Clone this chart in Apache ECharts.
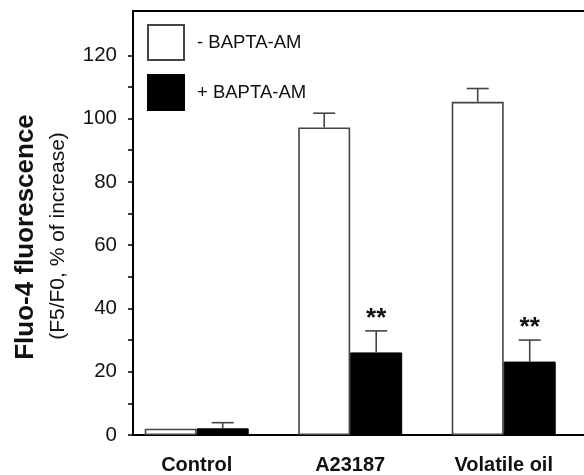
<!DOCTYPE html>
<html>
<head>
<meta charset="utf-8">
<script src="https://cdn.jsdelivr.net/npm/echarts@6/dist/echarts.min.js"></script>
<style>html,body{margin:0;padding:0;background:#fff}#c{width:584px;height:475px}</style>
</head>
<body>
<div id="c"></div>
<script>
const categories = ['Control', 'A23187', 'Volatile oil'];
const seriesNames = ['- BAPTA-AM', '+ BAPTA-AM'];
const withoutBapta = [2.0, 97.2, 105.3];
const withoutBaptaErr = [0, 4.5, 4.2];
const withBapta = [2.1, 26.1, 23.2];
const withBaptaErr = [1.8, 6.8, 6.8];
const significance = ['', '**', '**'];
const yLabelTicks = [0, 20, 40, 60, 80, 100, 120];
const yMinorTicks = [0, 10, 20, 30, 40, 50, 60, 70, 80, 90, 100, 110, 120];

const FONT = 'Liberation Sans, Arial, Helvetica, sans-serif';
const BAR_W = 52;
const pos = i => i + 0.5;

function errData(vals, errs) {
  return vals.map((v, i) => [pos(i), v, errs[i], i]);
}

function errRender(dx, color, withSig) {
  return function (params, api) {
    const x = api.value(0), v = api.value(1), e = api.value(2), idx = api.value(3);
    const base = api.coord([x, v]);
    const top = api.coord([x, v + e]);
    const cx = base[0] + dx;
    const children = [];
    if (e > 0) {
      children.push({type: 'line', shape: {x1: cx, y1: base[1], x2: cx, y2: top[1]}, style: {stroke: color, lineWidth: 1.6}});
      children.push({type: 'line', shape: {x1: cx - 11, y1: top[1], x2: cx + 11, y2: top[1]}, style: {stroke: color, lineWidth: 1.6}});
    }
    if (withSig && significance[idx]) {
      children.push({type: 'text', style: {text: significance[idx], x: cx, y: top[1] + 1, align: 'center', verticalAlign: 'bottom', font: 'bold 26px ' + FONT, fill: '#111'}});
    }
    return {type: 'group', children: children};
  };
}

const X_MIN = 0.085, X_MAX = 3.023;

const chart = echarts.init(document.getElementById('c'), null, {renderer: 'canvas'});
chart.setOption({
  animation: false,
  backgroundColor: '#fff',
  grid: {left: 133, top: 11, bottom: 40, right: 0, show: false},
  legend: {
    data: seriesNames, orient: 'vertical', left: 147, top: 24, padding: 0,
    itemWidth: 36, itemHeight: 35, itemGap: 13, icon: 'rect',
    textStyle: {fontSize: 18.5, color: '#111', fontFamily: FONT, padding: [0, 0, 0, 8]}
  },
  xAxis: [{
    type: 'value', min: X_MIN, max: X_MAX,
    splitLine: {show: false},
    axisLine: {show: true, onZero: false, lineStyle: {color: '#000', width: 2}},
    axisTick: {show: false},
    axisLabel: {
      customValues: categories.map((c, i) => pos(i)),
      formatter: v => categories[Math.floor(v)],
      fontSize: 20, fontWeight: 'bold', color: '#111', fontFamily: FONT, margin: 20
    }
  }, {
    type: 'value', position: 'top', min: X_MIN, max: X_MAX,
    splitLine: {show: false},
    axisLine: {show: true, onZero: false, lineStyle: {color: '#000', width: 2}},
    axisTick: {show: false},
    axisLabel: {show: false}
  }],
  yAxis: {
    type: 'value', min: 0, max: 134,
    splitLine: {show: false},
    axisLine: {show: true, lineStyle: {color: '#000', width: 2}},
    axisTick: {show: true, length: 5, customValues: yMinorTicks, lineStyle: {color: '#000', width: 1.5}},
    axisLabel: {customValues: yLabelTicks, fontSize: 20.5, color: '#111', fontFamily: FONT, margin: 16}
  },
  graphic: [
    {type: 'text', x: 26, y: 237, rotation: Math.PI / 2, style: {text: 'Fluo-4 fluorescence', font: 'bold 26px ' + FONT, fill: '#111', align: 'center', verticalAlign: 'middle'}},
    {type: 'text', x: 58, y: 236, rotation: Math.PI / 2, style: {text: '(F5/F0, % of increase)', font: '21px ' + FONT, fill: '#111', align: 'center', verticalAlign: 'middle'}}
  ],
  series: [
    {name: seriesNames[0], type: 'bar', barWidth: BAR_W, barGap: '0%',
     data: withoutBapta.map((v, i) => [pos(i), v]),
     itemStyle: {color: '#fff', borderColor: '#444', borderWidth: 1.6}},
    {name: seriesNames[1], type: 'bar', barWidth: BAR_W, barGap: '0%',
     data: withBapta.map((v, i) => [pos(i), v]),
     itemStyle: {color: '#000', borderColor: '#000', borderWidth: 1}},
    {type: 'custom', renderItem: errRender(-BAR_W / 2, '#444', false), data: errData(withoutBapta, withoutBaptaErr), z: 3},
    {type: 'custom', renderItem: errRender(BAR_W / 2, '#444', true), data: errData(withBapta, withBaptaErr), z: 3}
  ]
});
</script>
</body>
</html>
